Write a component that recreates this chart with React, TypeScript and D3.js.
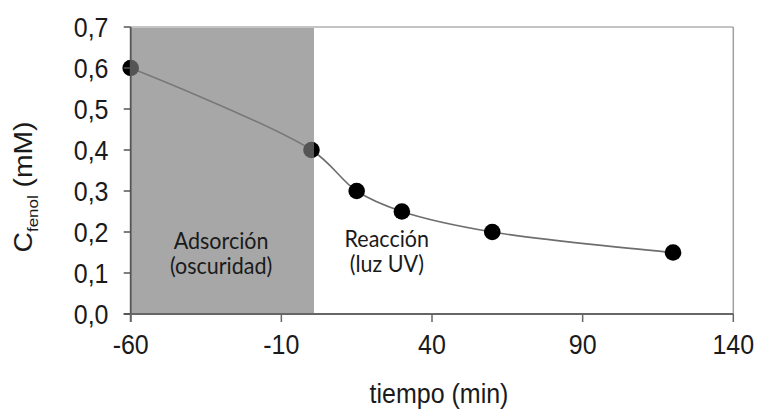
import React from "react";
import * as d3 from "d3";

const times = [-60, 0, 15, 30, 60, 120];
const conc = [0.6, 0.4, 0.3, 0.25, 0.2, 0.15];
const xTicks = [-60, -10, 40, 90, 140];
const yTicks = [0, 0.1, 0.2, 0.3, 0.4, 0.5, 0.6, 0.7];
const darkPhase = [-60, 0];
const labelDark = ["Adsorción", "(oscuridad)"];
const labelLight = ["Reacción", "(luz UV)"];
const labelLightAt = 25;

const W = 759;
const H = 410;
const SY = 1.13;
const ARIAL = "'Liberation Sans', Arial, sans-serif";
const CAL = "Lato, 'Open Sans', sans-serif";

function SText({ x, y, size, anchor = "middle", family = ARIAL, fill = "#1a1a1a", sy = SY, children }: any) {
  return (
    <text
      transform={`translate(${x},${y}) scale(1,${sy})`}
      fontSize={size}
      fontFamily={family}
      textAnchor={anchor}
      fill={fill}
    >
      {children}
    </text>
  );
}

export default function App() {
  const x = d3.scaleLinear().domain([-60, 140]).range([130.7, 733.3]);
  const y = d3.scaleLinear().domain([0, 0.7]).range([314, 27]);
  const pts: [number, number][] = times.map((t, i) => [t, conc[i]]);
  const line = d3
    .line<[number, number]>()
    .x((d) => x(d[0]))
    .y((d) => y(d[1]))
    .curve(d3.curveCatmullRom.alpha(0.5));
  const fmt = (v: number) => d3.format(".1f")(v).replace(".", ",");
  const darkX0 = x(darkPhase[0]);
  const darkX1 = x(darkPhase[1]) + 2.5;
  const darkCx = (x(darkPhase[0]) + x(darkPhase[1])) / 2;

  return (
    <svg width={W} height={H} style={{ position: "absolute", left: 0, top: 0, background: "#fff" }}>
      {/* frame */}
      <line x1={x(-60)} x2={x(140)} y1={y(0.7)} y2={y(0.7)} stroke="#b0b0b0" strokeWidth={1.5} />
      <line x1={x(140)} x2={x(140)} y1={y(0.7)} y2={y(0)} stroke="#a0a0a0" strokeWidth={1.5} />
      {/* series */}
      <path d={line(pts) || ""} fill="none" stroke="#6e6e6e" strokeWidth={1.6} />
      {pts.map((d, i) => (
        <circle key={i} cx={x(d[0])} cy={y(d[1])} r={8.3} fill="#000" />
      ))}
      {/* dark phase overlay */}
      <rect
        x={darkX0}
        y={y(0.7) + 1}
        width={darkX1 - darkX0}
        height={y(0) - y(0.7) - 1}
        fill="rgb(125,125,125)"
        fillOpacity={0.68}
      />
      {/* axes */}
      <line x1={x(-60)} x2={x(-60)} y1={y(0.7)} y2={y(0) + 8} stroke="#555" strokeWidth={1.8} />
      <line x1={x(-60) - 7} x2={x(140)} y1={y(0)} y2={y(0)} stroke="#666" strokeWidth={1.8} />
      {yTicks.map((t) => (
        <g key={"y" + t}>
          <line x1={x(-60) - 7} x2={x(-60)} y1={y(t)} y2={y(t)} stroke="#555" strokeWidth={1.5} />
          <SText x={108.5} y={y(t) + 10} size={25} anchor="end">
            {fmt(t)}
          </SText>
        </g>
      ))}
      {xTicks.map((t) => (
        <g key={"x" + t}>
          <line x1={x(t)} x2={x(t)} y1={y(0)} y2={y(0) + 8} stroke="#666" strokeWidth={1.5} />
          <SText x={x(t)} y={354} size={25}>
            {t}
          </SText>
        </g>
      ))}
      {/* axis titles */}
      <SText x={439} y={403} size={25}>
        tiempo (min)
      </SText>
      <text
        transform={`translate(31.7,187) rotate(-90) scale(${SY},1)`}
        fontFamily={ARIAL}
        fontSize={25}
        textAnchor="middle"
        fill="#1a1a1a"
      >
        C
        <tspan fontSize={15} dy={6}>
          fenol
        </tspan>
        <tspan dy={-6}> (mM)</tspan>
      </text>
      {/* annotations */}
      {labelDark.map((s, i) => (
        <SText key={s} x={darkCx} y={249 + i * 25} size={21.5} family={CAL} sy={1.05}>
          {s}
        </SText>
      ))}
      {labelLight.map((s, i) => (
        <SText key={s} x={x(labelLightAt)} y={247 + i * 25} size={21.5} family={CAL} sy={1.05}>
          {s}
        </SText>
      ))}
    </svg>
  );
}
